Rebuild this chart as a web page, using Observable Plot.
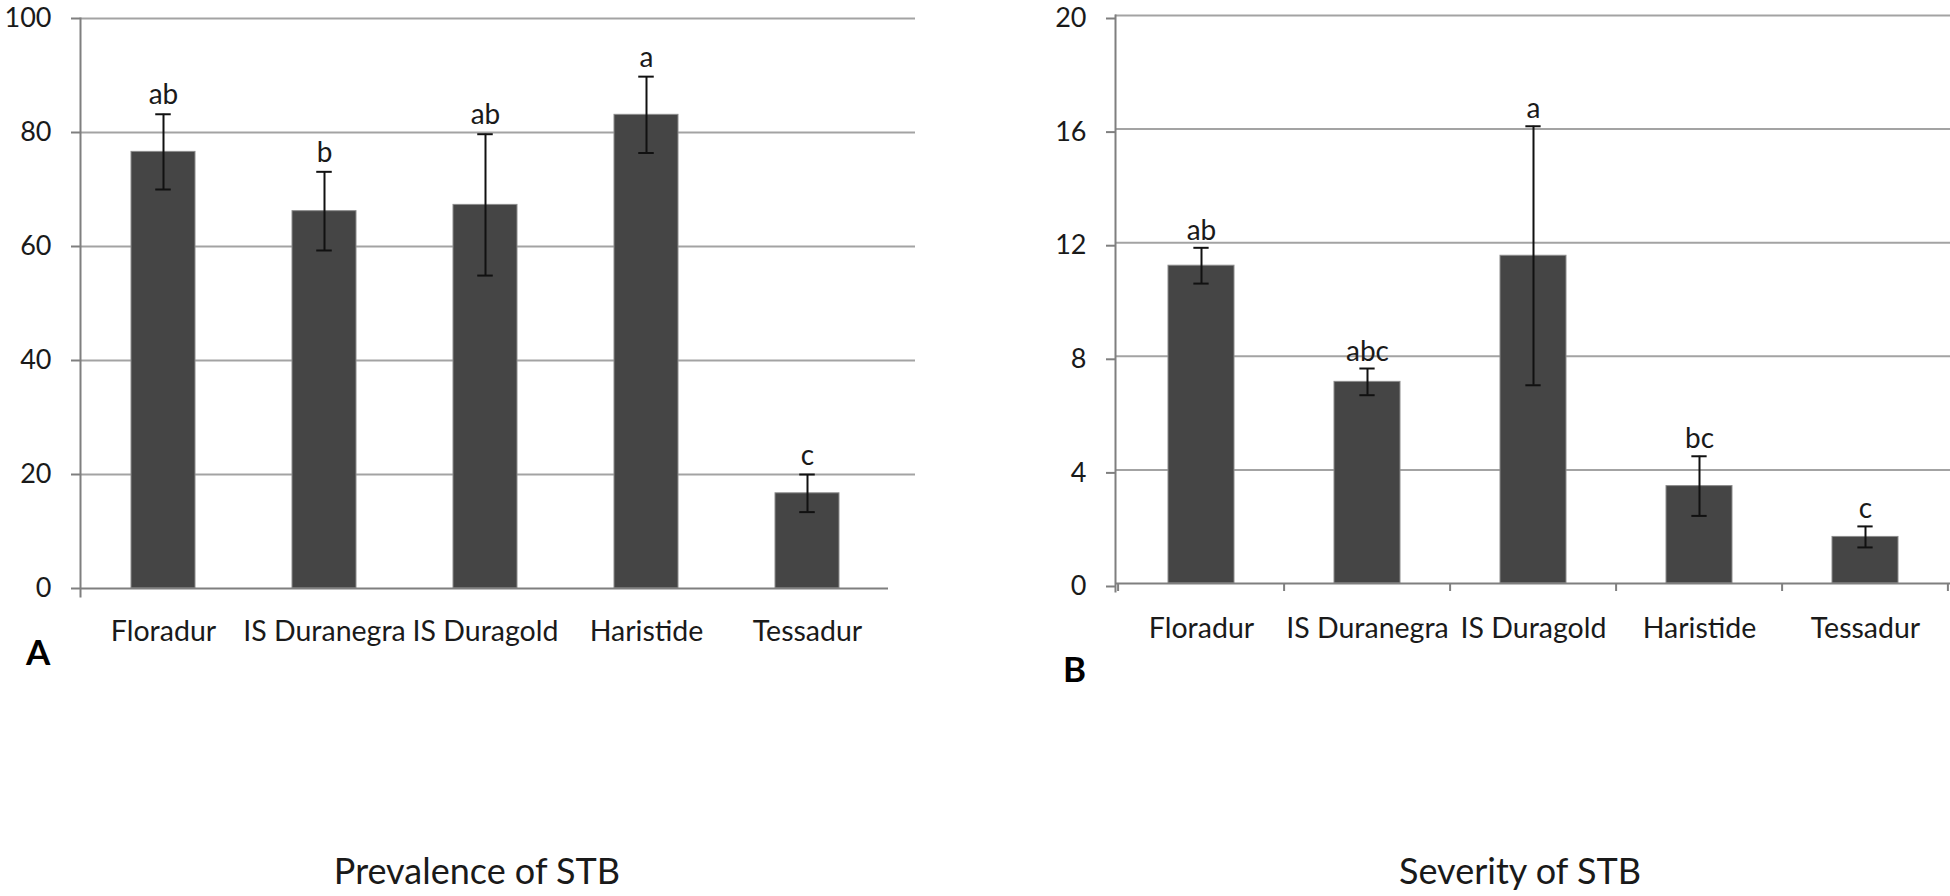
<!DOCTYPE html>
<html>
<head>
<meta charset="utf-8">
<script src="https://cdn.jsdelivr.net/npm/d3@7"></script>
<script src="https://cdn.jsdelivr.net/npm/@observablehq/plot@0.6"></script>
<style>
  body { margin: 0; background: #fff; }
  #wrap { position: relative; width: 1950px; height: 896px; overflow: hidden; background: #fff; font-family: Lato, "Open Sans", sans-serif; color: #1a1a1a; }
  #wrap > .panel { position: absolute; top: 0; }
  .lbl { position: absolute; line-height: 1; white-space: nowrap; }
  .letter { font-weight: bold; font-size: 35px; color: #000; }
  .title { font-size: 36px; transform: translateX(-50%); }
</style>
</head>
<body>
<div id="wrap">
  <div class="panel" id="left" style="left:0px"></div>
  <div class="panel" id="right" style="left:940px"></div>
  <div class="lbl letter" style="left:26px; top:634px">A</div>
  <div class="lbl letter" style="left:1063px; top:651px">B</div>
  <div class="lbl title" style="left:477px; top:852px">Prevalence of STB</div>
  <div class="lbl title" style="left:1520px; top:852px">Severity of STB</div>
</div>
<script>
const cats = ["Floradur", "IS Duranegra", "IS Duragold", "Haristide", "Tessadur"];

const prevalenceMean = [76.6, 66.2, 67.3, 83.1, 16.7];
const prevalenceErr = [6.6, 6.9, 12.4, 6.7, 3.3];
const prevalenceLetters = ["ab", "b", "ab", "a", "c"];
const prevalenceTicks = [0, 20, 40, 60, 80, 100];

const severityMean = [11.19, 7.10, 11.54, 3.43, 1.64];
const severityErr = [0.63, 0.47, 4.56, 1.05, 0.37];
const severityLetters = ["ab", "abc", "a", "bc", "c"];
const severityTicks = [0, 4, 8, 12, 16, 20];

function rows(means, errs, letters) {
  return cats.map((c, i) => ({
    cat: c, v: means[i], lo: means[i] - errs[i], hi: means[i] + errs[i], letter: letters[i]
  }));
}

function panel(cfg) {
  const data = rows(cfg.means, cfg.errs, cfg.letters);
  const step = (cfg.xRange[1] - cfg.xRange[0]) / cats.length;
  const bw = step * 0.4;
  const capInset = (bw - 16) / 2;
  const yMax = cfg.ticks[cfg.ticks.length - 1];
  const marks = [
    Plot.ruleY(cfg.ticks.filter(t => t > 0), {stroke: "#a3a3a3", strokeWidth: 2, insetRight: cfg.gridInsetRight}),
    Plot.barY(data, {x: "cat", y: "v", fill: "#454545", stroke: "#8c8c8c", strokeWidth: 1}),
    Plot.ruleX(data, {x: "cat", y1: "lo", y2: "hi", stroke: "#111", strokeWidth: 2}),
    Plot.tickY(data, {x: "cat", y: "hi", stroke: "#111", strokeWidth: 2, inset: capInset}),
    Plot.tickY(data, {x: "cat", y: "lo", stroke: "#111", strokeWidth: 2, inset: capInset}),
    Plot.text(data, {x: "cat", y: "hi", text: "letter", dy: cfg.letterDy, lineAnchor: "bottom", fontSize: 28, fill: "#1a1a1a"}),
    Plot.ruleY([0], {stroke: "#7f7f7f", strokeWidth: 2}),
    Plot.frame({anchor: "left", stroke: "#7f7f7f", strokeWidth: 2, insetBottom: -8}),
    Plot.axisY({ticks: cfg.ticks, tickSize: 9, tickPadding: 20, stroke: "#7f7f7f", strokeWidth: 2, fontSize: 27, dy: cfg.yLabelDy, tickFormat: d => String(d), label: null}),
    Plot.axisX({tickSize: 0, tickPadding: cfg.xLabelPad, fontSize: 28.5, label: null})
  ];
  if (cfg.catTicks) {
    marks.push(Plot.axisX({tickSize: 8, dx: -step / 2, stroke: "#7f7f7f", strokeWidth: 2, tickFormat: () => "", label: null}));
    marks.push(Plot.axisX({ticks: [cats[cats.length - 1]], tickSize: 8, dx: step / 2 - 1, stroke: "#7f7f7f", strokeWidth: 2, tickFormat: () => "", label: null}));
  }
  return Plot.plot({
    width: cfg.width,
    height: cfg.height,
    marginLeft: cfg.mL,
    marginRight: cfg.mR,
    marginTop: cfg.mT,
    marginBottom: cfg.mB,
    style: {fontFamily: "Lato, 'Open Sans', sans-serif", color: "#1a1a1a", background: "transparent", overflow: "visible"},
    x: {domain: cats, range: cfg.xRange, paddingInner: 0.6, paddingOuter: 0.3, axis: null},
    y: {domain: [0, yMax], axis: null},
    marks
  });
}

document.getElementById("left").appendChild(panel({
  means: prevalenceMean, errs: prevalenceErr, letters: prevalenceLetters, ticks: prevalenceTicks,
  width: 940, height: 700, mL: 80, mR: 52, mT: 18, mB: 112,
  xRange: [82, 888], gridInsetRight: -27, letterDy: -10, xLabelPad: 32, yLabelDy: 0, catTicks: false
}));

document.getElementById("right").appendChild(panel({
  means: severityMean, errs: severityErr, letters: severityLetters, ticks: severityTicks,
  width: 1010, height: 700, mL: 175, mR: 0, mT: 15, mB: 117,
  xRange: [176, 1010], gridInsetRight: 0, letterDy: -8, xLabelPad: 34, yLabelDy: 3, catTicks: true
}));
</script>
</body>
</html>
